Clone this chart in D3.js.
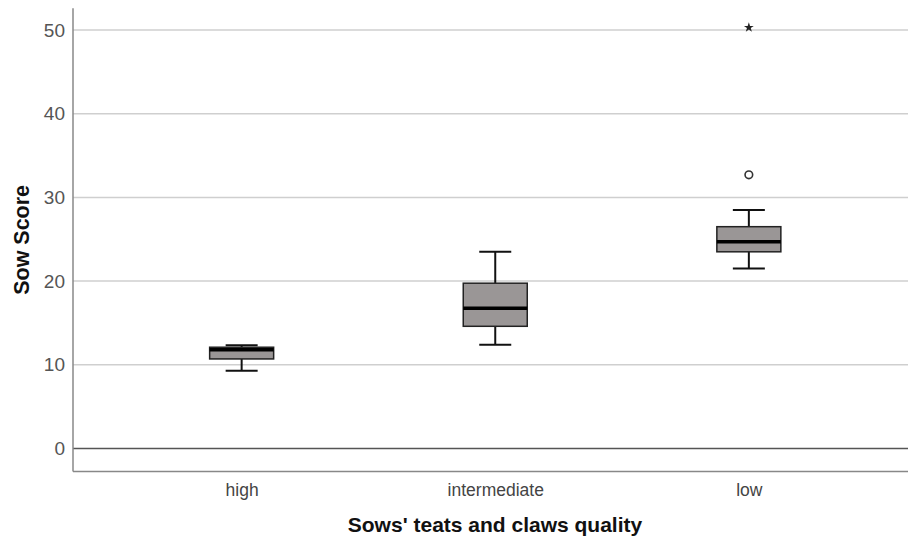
<!DOCTYPE html>
<html>
<head>
<meta charset="utf-8">
<script src="https://cdn.jsdelivr.net/npm/d3@7"></script>
<style>
  html, body { margin: 0; padding: 0; background: #ffffff; }
  svg { display: block; }
</style>
</head>
<body>
<svg id="chart" width="908" height="539"></svg>
<script>
// ---- data ----
const categories = ["high", "intermediate", "low"];
const whiskerLow  = [9.3, 12.4, 21.5];
const q1          = [10.7, 14.6, 23.5];
const median      = [11.8, 16.75, 24.7];
const q3          = [12.1, 19.75, 26.5];
const whiskerHigh = [12.35, 23.5, 28.5];
const outliers    = [{ cat: "low", value: 32.7 }];
const extremes    = [{ cat: "low", value: 50.3 }];
const yTicks      = [0, 10, 20, 30, 40, 50];
const yTitle = "Sow Score";
const xTitle = "Sows' teats and claws quality";

const svg = d3.select("#chart");

const y = d3.scaleLinear().domain([0, 50]).range([448.5, 30]);
const x = d3.scalePoint().domain(categories).range([73, 917.5]).padding(0.665);

const yMin = -2.75, yMax = 52.6;
const left = 73, right = 908;
const boxW = 64, capW = 32;

// grid lines
svg.append("g").selectAll("line.grid")
  .data(yTicks.filter(d => d !== 0))
  .join("line")
  .attr("x1", left).attr("x2", right)
  .attr("y1", d => y(d)).attr("y2", d => y(d))
  .attr("stroke", "#cfcfcf").attr("stroke-width", 1.5);

// zero line
svg.append("line")
  .attr("x1", left).attr("x2", right)
  .attr("y1", y(0)).attr("y2", y(0))
  .attr("stroke", "#555").attr("stroke-width", 1.5);

// y axis
const yAxis = d3.axisLeft(y).tickValues(yTicks).tickSize(0).tickPadding(8);
const gy = svg.append("g").attr("transform", `translate(${left},0)`).call(yAxis);
gy.select(".domain").remove();
gy.selectAll("text")
  .attr("font-family", "Liberation Sans, Arial, sans-serif")
  .attr("font-size", 19).attr("fill", "#555");

svg.append("line")
  .attr("x1", left).attr("x2", left)
  .attr("y1", y(yMax)).attr("y2", y(yMin))
  .attr("stroke", "#888").attr("stroke-width", 1.5);
svg.append("line")
  .attr("x1", left).attr("x2", right)
  .attr("y1", y(yMin)).attr("y2", y(yMin))
  .attr("stroke", "#888").attr("stroke-width", 1.5);

// x axis labels
const xAxis = d3.axisBottom(x).tickSize(0).tickPadding(12);
const gx = svg.append("g").attr("transform", `translate(0,${y(yMin)})`).call(xAxis);
gx.select(".domain").remove();
gx.selectAll("text")
  .attr("font-family", "Liberation Sans, Arial, sans-serif")
  .attr("font-size", 17.5).attr("fill", "#444");

// titles
svg.append("text")
  .attr("transform", `translate(29,${(y(yMax) + y(yMin)) / 2}) rotate(-90)`)
  .attr("text-anchor", "middle")
  .attr("font-family", "Liberation Sans, Arial, sans-serif")
  .attr("font-weight", "bold").attr("font-size", 21.5).attr("fill", "#111")
  .text(yTitle);

svg.append("text")
  .attr("x", 495).attr("y", 532)
  .attr("text-anchor", "middle")
  .attr("font-family", "Liberation Sans, Arial, sans-serif")
  .attr("font-weight", "bold").attr("font-size", 21).attr("fill", "#111")
  .text(xTitle);

// boxes
const data = categories.map((c, i) => ({
  c, lo: whiskerLow[i], q1: q1[i], med: median[i], q3: q3[i], hi: whiskerHigh[i]
}));

const g = svg.append("g");
const box = g.selectAll("g.box").data(data).join("g").attr("class", "box");

// whiskers
box.append("line")
  .attr("x1", d => x(d.c)).attr("x2", d => x(d.c))
  .attr("y1", d => y(d.hi)).attr("y2", d => y(d.q3))
  .attr("stroke", "#111").attr("stroke-width", 2);
box.append("line")
  .attr("x1", d => x(d.c)).attr("x2", d => x(d.c))
  .attr("y1", d => y(d.q1)).attr("y2", d => y(d.lo))
  .attr("stroke", "#111").attr("stroke-width", 2);
box.append("line")
  .attr("x1", d => x(d.c) - capW / 2).attr("x2", d => x(d.c) + capW / 2)
  .attr("y1", d => y(d.hi)).attr("y2", d => y(d.hi))
  .attr("stroke", "#111").attr("stroke-width", 2);
box.append("line")
  .attr("x1", d => x(d.c) - capW / 2).attr("x2", d => x(d.c) + capW / 2)
  .attr("y1", d => y(d.lo)).attr("y2", d => y(d.lo))
  .attr("stroke", "#111").attr("stroke-width", 2);

box.append("rect")
  .attr("x", d => x(d.c) - boxW / 2).attr("width", boxW)
  .attr("y", d => y(d.q3)).attr("height", d => y(d.q1) - y(d.q3))
  .attr("fill", "#9a9696").attr("stroke", "#222").attr("stroke-width", 1.5);

box.append("line")
  .attr("x1", d => x(d.c) - boxW / 2).attr("x2", d => x(d.c) + boxW / 2)
  .attr("y1", d => y(d.med)).attr("y2", d => y(d.med))
  .attr("stroke", "#000").attr("stroke-width", 3.5);

// outliers
g.selectAll("circle.out").data(outliers).join("circle")
  .attr("cx", d => x(d.cat)).attr("cy", d => y(d.value))
  .attr("r", 3.8).attr("fill", "#fff")
  .attr("stroke", "#333").attr("stroke-width", 1.6);

g.selectAll("path.ext").data(extremes).join("path")
  .attr("transform", d => `translate(${x(d.cat)},${y(d.value)})`)
  .attr("d", d3.symbol(d3.symbolStar, 30))
  .attr("fill", "#222");
</script>
</body>
</html>
